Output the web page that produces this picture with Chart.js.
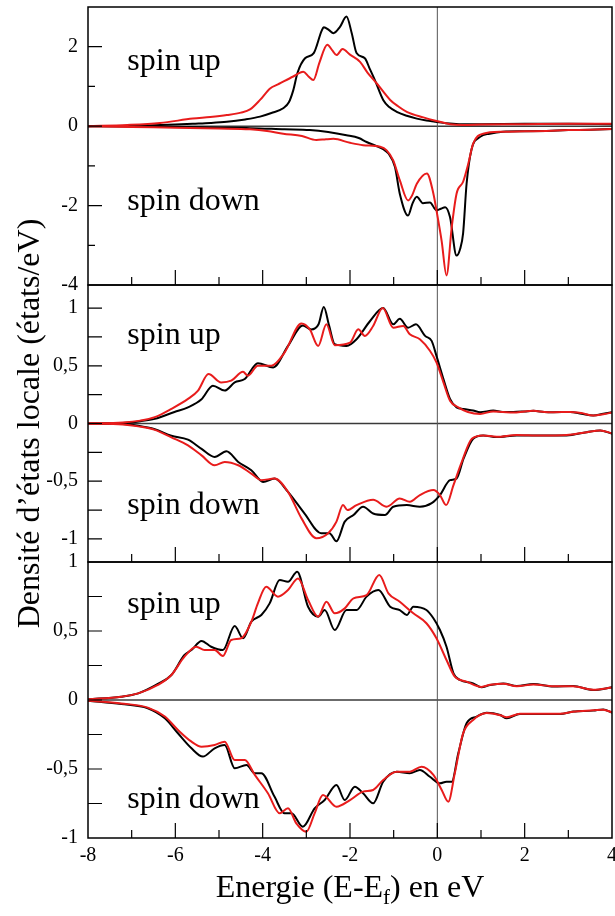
<!DOCTYPE html>
<html>
<head>
<meta charset="utf-8">
<script src="https://cdn.jsdelivr.net/npm/chart.js@4.4.0/dist/chart.umd.min.js"></script>
<style>
  html, body { margin: 0; padding: 0; background: #fff; }
  #wrap { position: relative; width: 615px; height: 916px; }
  #wrap canvas { position: absolute; left: 0; top: 0; }
</style>
</head>
<body>
<div id="wrap">
  <canvas id="dosTop" width="615" height="916"></canvas>
  <canvas id="dosMid" width="615" height="916"></canvas>
  <canvas id="dosBot" width="615" height="916"></canvas>
</div>
<script>
/* Local DOS, three panels, spin up (>0) / spin down (<0), black vs red.
   Points are [E - Ef (eV), DOS (states/eV)]. */

const E_MIN = -8, E_MAX = 4;
const E_TICKS_STEP = 2;
const SPIN_LABELS = ['spin up', 'spin down'];
const LABEL_E = -7.1;

/* ── Panel 1 ─────────────────────────────────────── */
const p1UpBlack = [[-8,0],[-7,0.005],[-6.5,0.02],[-6,0.04],[-5.6,0.06],[-5.2,0.08],[-4.82,0.11],[-4.4,0.17],[-4.06,0.24],[-3.8,0.33],[-3.53,0.45],[-3.4,0.6],[-3.3,0.9],[-3.2,1.35],[-3.03,1.71],[-2.83,1.84],[-2.65,2.4],[-2.6,2.49],[-2.48,2.42],[-2.38,2.34],[-2.23,2.5],[-2.08,2.76],[-1.96,2.34],[-1.85,1.84],[-1.66,1.71],[-1.55,1.45],[-1.43,1.16],[-1.24,0.66],[-1.1,0.48],[-0.93,0.36],[-0.7,0.26],[-0.47,0.19],[-0.25,0.14],[-0.05,0.11],[0.2,0.07],[0.5,0.05],[1,0.05],[2,0.06],[3,0.06],[4,0.05]];
const p1UpRed = [[-8,0],[-7.1,0.03],[-6.35,0.08],[-5.6,0.19],[-5.2,0.23],[-4.82,0.28],[-4.5,0.34],[-4.29,0.42],[-4.06,0.66],[-3.83,0.95],[-3.65,1.05],[-3.53,1.12],[-3.3,1.25],[-3.07,1.37],[-2.95,1.25],[-2.84,1.16],[-2.7,1.6],[-2.52,2.05],[-2.4,1.9],[-2.31,1.79],[-2.17,1.94],[-2.0,1.8],[-1.77,1.62],[-1.6,1.35],[-1.39,1.08],[-1.08,0.66],[-0.9,0.5],[-0.7,0.36],[-0.32,0.22],[-0.02,0.13],[0.29,0.05],[0.6,0.03],[1,0.04],[2,0.05],[3,0.06],[4,0.06]];
const p1DownBlack = [[-8,0],[-7,-0.01],[-6,-0.02],[-5,-0.04],[-4.29,-0.05],[-3.5,-0.08],[-2.92,-0.1],[-2.5,-0.15],[-2.08,-0.23],[-1.8,-0.3],[-1.62,-0.4],[-1.4,-0.5],[-1.24,-0.58],[-1.12,-0.69],[-0.97,-1.03],[-0.86,-1.7],[-0.67,-2.25],[-0.57,-1.95],[-0.47,-1.78],[-0.33,-1.94],[-0.17,-1.92],[-0.02,-2.12],[0.08,-2.08],[0.18,-2.04],[0.29,-2.29],[0.44,-3.26],[0.52,-3.1],[0.59,-2.7],[0.67,-1.45],[0.78,-0.6],[0.98,-0.27],[1.2,-0.19],[1.5,-0.14],[2,-0.13],[2.5,-0.12],[3,-0.1],[3.5,-0.09],[4,-0.07]];
const p1DownRed = [[-8,0],[-7,-0.02],[-6,-0.04],[-5,-0.06],[-4.29,-0.08],[-3.9,-0.12],[-3.53,-0.19],[-3.1,-0.25],[-2.77,-0.35],[-2.55,-0.33],[-2.38,-0.32],[-2.0,-0.42],[-1.7,-0.48],[-1.31,-0.52],[-1.16,-0.61],[-1.01,-0.86],[-0.86,-1.36],[-0.67,-1.87],[-0.58,-1.75],[-0.47,-1.45],[-0.24,-1.19],[-0.09,-1.7],[-0.02,-2.12],[0.1,-2.9],[0.21,-3.76],[0.33,-2.54],[0.44,-1.7],[0.59,-1.4],[0.71,-0.94],[0.82,-0.44],[1.05,-0.19],[1.5,-0.14],[2,-0.13],[2.5,-0.12],[3,-0.1],[3.5,-0.09],[4,-0.07]];
const p1LabelV = [1.41, -2.10];

/* ── Panel 2 ─────────────────────────────────────── */
const p2UpBlack = [[-8,0],[-7.2,0.005],[-6.8,0.02],[-6.47,0.04],[-6.02,0.1],[-5.71,0.14],[-5.4,0.21],[-5.14,0.327],[-4.87,0.285],[-4.64,0.356],[-4.41,0.385],[-4.11,0.523],[-3.76,0.486],[-3.42,0.672],[-3.08,0.85],[-2.89,0.815],[-2.72,0.86],[-2.6,1.01],[-2.48,0.85],[-2.35,0.687],[-2.08,0.672],[-1.85,0.73],[-1.54,0.888],[-1.24,1.0],[-1.01,0.859],[-0.86,0.908],[-0.67,0.83],[-0.49,0.859],[-0.28,0.759],[-0.13,0.716],[-0.02,0.586],[0.14,0.385],[0.29,0.213],[0.44,0.14],[0.6,0.125],[0.82,0.112],[0.98,0.098],[1.28,0.112],[1.5,0.1],[1.74,0.1],[2.0,0.105],[2.2,0.11],[2.45,0.1],[2.66,0.098],[3.04,0.1],[3.3,0.085],[3.57,0.069],[3.8,0.085],[4,0.098]];
const p2UpRed = [[-8,0],[-7.2,0.008],[-6.8,0.025],[-6.47,0.055],[-6.09,0.127],[-5.71,0.213],[-5.48,0.285],[-5.24,0.428],[-4.95,0.356],[-4.72,0.371],[-4.45,0.448],[-4.34,0.414],[-4.11,0.5],[-3.8,0.5],[-3.5,0.614],[-3.11,0.867],[-2.92,0.815],[-2.73,0.672],[-2.54,0.859],[-2.35,0.678],[-2.0,0.7],[-1.81,0.816],[-1.66,0.759],[-1.47,0.845],[-1.25,1.0],[-1.01,0.83],[-0.78,0.845],[-0.63,0.773],[-0.4,0.73],[-0.17,0.63],[-0.02,0.529],[0.14,0.356],[0.29,0.198],[0.48,0.14],[0.7,0.1],[0.98,0.083],[1.28,0.105],[1.5,0.1],[1.74,0.095],[2.0,0.105],[2.2,0.11],[2.45,0.1],[2.66,0.098],[3.04,0.1],[3.3,0.09],[3.57,0.07],[3.8,0.08],[4,0.095]];
const p2DownBlack = [[-8,0],[-7.2,-0.005],[-6.85,-0.02],[-6.47,-0.05],[-6.09,-0.106],[-5.71,-0.14],[-5.4,-0.22],[-5.1,-0.29],[-4.83,-0.241],[-4.56,-0.333],[-4.26,-0.405],[-3.99,-0.506],[-3.73,-0.477],[-3.42,-0.592],[-3.04,-0.78],[-2.66,-0.95],[-2.47,-0.95],[-2.31,-1.02],[-2.12,-0.85],[-1.92,-0.793],[-1.7,-0.721],[-1.47,-0.78],[-1.2,-0.793],[-1.01,-0.721],[-0.7,-0.707],[-0.4,-0.721],[-0.13,-0.69],[0.06,-0.62],[0.29,-0.491],[0.44,-0.477],[0.6,-0.305],[0.82,-0.132],[1.05,-0.103],[1.36,-0.118],[1.82,-0.103],[2.35,-0.103],[2.96,-0.103],[3.42,-0.075],[3.73,-0.06],[4,-0.089]];
const p2DownRed = [[-8,0],[-7.2,-0.008],[-6.85,-0.025],[-6.47,-0.055],[-6.09,-0.12],[-5.71,-0.19],[-5.4,-0.276],[-5.1,-0.362],[-4.87,-0.333],[-4.56,-0.362],[-4.26,-0.434],[-4.03,-0.491],[-3.73,-0.477],[-3.42,-0.592],[-3.11,-0.822],[-2.77,-0.994],[-2.5,-0.95],[-2.31,-0.85],[-2.16,-0.707],[-2.06,-0.75],[-1.85,-0.707],[-1.47,-0.66],[-1.16,-0.721],[-0.86,-0.65],[-0.63,-0.678],[-0.4,-0.62],[-0.09,-0.577],[0.06,-0.62],[0.2,-0.707],[0.37,-0.534],[0.56,-0.333],[0.79,-0.132],[1.05,-0.103],[1.36,-0.115],[1.82,-0.1],[2.35,-0.105],[2.96,-0.1],[3.42,-0.075],[3.73,-0.06],[4,-0.085]];
const p2LabelV = [0.69, -0.78];

/* ── Panel 3 ─────────────────────────────────────── */
const p3UpBlack = [[-8,0.005],[-7.24,0.024],[-6.85,0.048],[-6.4,0.116],[-6.09,0.181],[-5.79,0.326],[-5.63,0.362],[-5.4,0.428],[-5.18,0.386],[-4.91,0.362],[-4.64,0.536],[-4.45,0.447],[-4.26,0.567],[-4.03,0.616],[-3.84,0.7],[-3.61,0.869],[-3.42,0.857],[-3.21,0.93],[-2.96,0.676],[-2.73,0.604],[-2.58,0.652],[-2.35,0.507],[-2.08,0.652],[-1.85,0.652],[-1.62,0.749],[-1.35,0.797],[-1.08,0.676],[-0.86,0.652],[-0.7,0.616],[-0.55,0.676],[-0.25,0.652],[-0.09,0.592],[0.06,0.507],[0.21,0.386],[0.37,0.193],[0.52,0.145],[0.82,0.12],[1.01,0.092],[1.21,0.109],[1.51,0.12],[1.82,0.101],[2.2,0.116],[2.66,0.097],[3.11,0.101],[3.57,0.072],[4,0.092]];
const p3UpRed = [[-8,0.005],[-7.24,0.024],[-6.85,0.048],[-6.4,0.109],[-6.09,0.181],[-5.79,0.314],[-5.52,0.386],[-5.33,0.362],[-5.1,0.362],[-4.91,0.319],[-4.72,0.435],[-4.49,0.447],[-4.26,0.567],[-4.11,0.7],[-3.92,0.821],[-3.65,0.749],[-3.42,0.797],[-3.19,0.881],[-2.96,0.725],[-2.73,0.604],[-2.54,0.712],[-2.35,0.628],[-2.12,0.664],[-1.92,0.737],[-1.62,0.76],[-1.33,0.906],[-1.12,0.773],[-0.86,0.712],[-0.55,0.628],[-0.25,0.556],[-0.02,0.447],[0.21,0.29],[0.4,0.169],[0.67,0.133],[1.01,0.095],[1.21,0.11],[1.51,0.118],[1.82,0.1],[2.2,0.112],[2.66,0.1],[3.11,0.1],[3.57,0.075],[4,0.09]];
const p3DownBlack = [[-8,-0.005],[-7.24,-0.029],[-6.63,-0.06],[-6.24,-0.133],[-5.94,-0.241],[-5.63,-0.35],[-5.37,-0.41],[-5.1,-0.35],[-4.87,-0.326],[-4.64,-0.495],[-4.37,-0.471],[-4.18,-0.531],[-4.03,-0.531],[-3.73,-0.7],[-3.5,-0.821],[-3.34,-0.821],[-3.08,-0.918],[-2.81,-0.785],[-2.58,-0.725],[-2.31,-0.616],[-2.12,-0.725],[-1.89,-0.628],[-1.7,-0.676],[-1.47,-0.749],[-1.24,-0.592],[-0.93,-0.52],[-0.63,-0.531],[-0.4,-0.507],[-0.17,-0.556],[0.06,-0.604],[0.21,-0.592],[0.33,-0.592],[0.48,-0.386],[0.67,-0.169],[0.9,-0.12],[1.13,-0.092],[1.44,-0.109],[1.59,-0.133],[1.89,-0.101],[2.35,-0.101],[2.81,-0.101],[3.11,-0.084],[3.57,-0.077],[3.8,-0.068],[4,-0.092]];
const p3DownRed = [[-8,-0.005],[-7.24,-0.025],[-6.63,-0.055],[-6.24,-0.12],[-5.94,-0.217],[-5.63,-0.302],[-5.4,-0.338],[-5.1,-0.326],[-4.87,-0.302],[-4.64,-0.435],[-4.41,-0.435],[-4.18,-0.543],[-3.88,-0.676],[-3.61,-0.821],[-3.42,-0.785],[-3.23,-0.894],[-3.0,-0.954],[-2.81,-0.821],[-2.62,-0.688],[-2.31,-0.773],[-2.0,-0.725],[-1.7,-0.664],[-1.47,-0.652],[-1.24,-0.58],[-0.93,-0.52],[-0.63,-0.52],[-0.36,-0.483],[-0.09,-0.543],[0.1,-0.652],[0.25,-0.737],[0.4,-0.531],[0.59,-0.242],[0.82,-0.145],[1.13,-0.095],[1.44,-0.11],[1.59,-0.125],[1.89,-0.1],[2.35,-0.1],[2.81,-0.1],[3.11,-0.085],[3.57,-0.075],[3.8,-0.07],[4,-0.09]];
const p3LabelV = [0.63, -0.78];

/* ── Styling ─────────────────────────────────────── */
const SERIF = '"Liberation Serif", "DejaVu Serif", serif';
const RED = '#e81c1c';
const BLACK = '#000';

const toXY = pts => pts.map(([x, y]) => ({ x, y }));

const curve = (pts, color) => ({
  data:                   toXY(pts),
  borderColor:            color,
  borderWidth:            2,
  pointRadius:            0,
  fill:                   false,
  cubicInterpolationMode: 'monotone',
});

const isMultiple = (v, step) => Math.abs(v / step - Math.round(v / step)) < 1e-6;

// frame, inward ticks, zero lines, spin labels, axis titles
const panelDeco = {
  id: 'panelDeco',
  beforeDatasetsDraw(chart) {
    const { ctx, chartArea: a, scales: { x, y } } = chart;
    ctx.save();
    const y0 = y.getPixelForValue(0);
    ctx.strokeStyle = '#3a3a3a';
    ctx.lineWidth = 1.5;
    ctx.beginPath(); ctx.moveTo(a.left, y0); ctx.lineTo(a.right, y0); ctx.stroke();
    const x0 = x.getPixelForValue(0);
    ctx.strokeStyle = '#555';
    ctx.lineWidth = 1;
    ctx.beginPath(); ctx.moveTo(x0, a.top); ctx.lineTo(x0, a.bottom); ctx.stroke();
    ctx.restore();
  },
  afterDatasetsDraw(chart, args, o) {
    const { ctx, chartArea: a, scales: { x, y } } = chart;
    ctx.save();
    ctx.strokeStyle = '#000';
    ctx.lineWidth = 1.5;
    ctx.strokeRect(a.left, a.top, a.right - a.left, a.bottom - a.top);

    ctx.lineWidth = 1.2;
    ctx.beginPath();
    for (let e = E_MIN + 1; e < E_MAX; e += 1) {
      const px = x.getPixelForValue(e);
      const len = isMultiple(e, E_TICKS_STEP) ? 15 : 8;
      ctx.moveTo(px, a.bottom); ctx.lineTo(px, a.bottom - len);
    }
    const start = Math.ceil(o.yMin / o.minorStep - 1e-9) * o.minorStep;
    for (let v = start; v < o.yMax - 1e-9; v += o.minorStep) {
      if (v <= o.yMin + 1e-9) continue;
      const py = y.getPixelForValue(v);
      const len = isMultiple(v, o.yStep) ? 14 : o.minorLen;
      ctx.moveTo(a.left, py); ctx.lineTo(a.left + len, py);
    }
    ctx.stroke();

    ctx.fillStyle = '#000';
    ctx.font = `32px ${SERIF}`;
    ctx.textAlign = 'left';
    ctx.textBaseline = 'alphabetic';
    o.labelV.forEach((v, i) => {
      ctx.fillText(SPIN_LABELS[i], x.getPixelForValue(LABEL_E), y.getPixelForValue(v));
    });
    ctx.restore();
  },
  afterDraw(chart, args, o) {
    const { ctx, chartArea: a } = chart;
    ctx.save();
    ctx.fillStyle = '#000';
    if (o.yTitle) {
      ctx.translate(31, (a.top + a.bottom) / 2);
      ctx.rotate(-Math.PI / 2);
      ctx.font = `32px ${SERIF}`;
      ctx.textAlign = 'center';
      ctx.textBaseline = 'middle';
      ctx.fillText(o.yTitle, 0, 0);
    }
    if (o.xTitle) {
      const [head, sub, tail] = o.xTitle;
      const big = `32px ${SERIF}`, small = `21px ${SERIF}`;
      ctx.font = big;
      const w1 = ctx.measureText(head).width, w3 = ctx.measureText(tail).width;
      ctx.font = small;
      const w2 = ctx.measureText(sub).width;
      let cx = (a.left + a.right) / 2 - (w1 + w2 + w3) / 2;
      const base = chart.height - 19;
      ctx.textAlign = 'left';
      ctx.textBaseline = 'alphabetic';
      ctx.font = big;   ctx.fillText(head, cx, base); cx += w1;
      ctx.font = small; ctx.fillText(sub, cx, base + 7); cx += w2;
      ctx.font = big;   ctx.fillText(tail, cx, base);
    }
    ctx.restore();
  },
};

function makePanel(id, p) {
  return new Chart(document.getElementById(id), {
    type: 'line',
    data: {
      datasets: [
        curve(p.upRed, RED),
        curve(p.downRed, RED),
        curve(p.upBlack, BLACK),
        curve(p.downBlack, BLACK),
      ],
    },
    options: {
      responsive:       false,
      animation:        false,
      devicePixelRatio: 1,
      events:           [],
      layout: { padding: { left: 0, right: 3, top: p.top, bottom: p.bottom } },
      plugins: {
        legend:  { display: false },
        tooltip: { enabled: false },
        panelDeco: {
          yMin: p.yMin, yMax: p.yMax, yStep: p.yStep,
          minorStep: p.minorStep, minorLen: p.minorLen,
          labelV: p.labelV, yTitle: p.yTitle, xTitle: p.xTitle,
        },
      },
      scales: {
        x: {
          type:    'linear',
          min:     E_MIN,
          max:     E_MAX,
          display: p.showX,
          grid:    { display: false, drawTicks: false },
          border:  { display: false },
          ticks: {
            stepSize: E_TICKS_STEP, padding: 6, maxRotation: 0, includeBounds: false,
            color: '#000', font: { family: SERIF, size: 20 },
          },
          afterFit: s => {
            s.height = p.showX ? 70 : 0;
            s.paddingLeft = 0; s.paddingRight = 0;
          },
        },
        y: {
          type:   'linear',
          min:    p.yMin,
          max:    p.yMax,
          grid:   { display: false, drawTicks: false },
          border: { display: false },
          ticks: {
            stepSize: p.yStep, padding: 10, includeBounds: false,
            color: '#000', font: { family: SERIF, size: 20 },
            callback: v => String(v).replace('.', ','),
          },
          afterFit: s => { s.width = 88; s.paddingTop = 0; s.paddingBottom = 0; },
        },
      },
    },
    plugins: [panelDeco],
  });
}

makePanel('dosTop', {
  upBlack: p1UpBlack, upRed: p1UpRed, downBlack: p1DownBlack, downRed: p1DownRed,
  yMin: -4, yMax: 3, yStep: 2, minorStep: 1, minorLen: 7,
  top: 7, bottom: 631, showX: false, labelV: p1LabelV,
});

makePanel('dosMid', {
  upBlack: p2UpBlack, upRed: p2UpRed, downBlack: p2DownBlack, downRed: p2DownRed,
  yMin: -1.2, yMax: 1.2, yStep: 0.5, minorStep: 0.25, minorLen: 14,
  top: 285, bottom: 354, showX: false, labelV: p2LabelV,
  yTitle: 'Densité d\u2019états locale (états/eV)',
});

makePanel('dosBot', {
  upBlack: p3UpBlack, upRed: p3UpRed, downBlack: p3DownBlack, downRed: p3DownRed,
  yMin: -1, yMax: 1, yStep: 0.5, minorStep: 0.25, minorLen: 14,
  top: 562, bottom: 8, showX: true, labelV: p3LabelV,
  xTitle: ['Energie (E-E', 'f', ') en eV'],
});
</script>
</body>
</html>
